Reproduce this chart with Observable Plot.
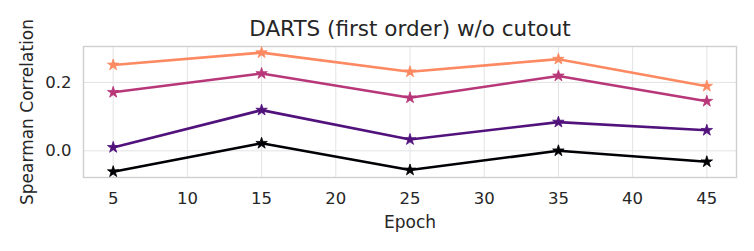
<!DOCTYPE html>
<html>
<head>
<meta charset="utf-8">
<script src="https://cdn.jsdelivr.net/npm/d3@7"></script>
<script src="https://cdn.jsdelivr.net/npm/@observablehq/plot@0.6"></script>
<style>
  html, body { margin: 0; padding: 0; background: #fff; }
  #chart svg { display: block; }
</style>
</head>
<body>
<div id="chart"></div>
<script>
const epochs = [5, 15, 25, 35, 45];
const seriesNames = ["s0", "s1", "s2", "s3"];
const seriesColors = ["#000004", "#51127c", "#b73779", "#fc8961"];
const values0 = [-0.061, 0.022, -0.056, 0.000, -0.032];
const values1 = [0.010, 0.119, 0.033, 0.084, 0.060];
const values2 = [0.171, 0.226, 0.155, 0.219, 0.145];
const values3 = [0.251, 0.287, 0.231, 0.268, 0.189];
const xTicks = [5, 10, 15, 20, 25, 30, 35, 40, 45];
const yTicks = [0.0, 0.2];
const titleText = "DARTS (first order) w/o cutout";
const xLabel = "Epoch";
const yLabel = "Spearman Correlation";

const allValues = [values0, values1, values2, values3];
const data = [];
allValues.forEach((vals, i) => {
  vals.forEach((v, j) => data.push({series: seriesNames[i], epoch: epochs[j], value: v}));
});

const textColor = "#262626";
const font = "DejaVu Sans, sans-serif";

const chart = Plot.plot({
  width: 754,
  height: 251,
  marginLeft: 83,
  marginRight: 18,
  marginTop: 46,
  marginBottom: 74,
  style: {fontFamily: font, color: textColor, background: "#fff", overflow: "visible"},
  x: {domain: [3, 47]},
  y: {domain: [-0.078, 0.305]},
  color: {domain: seriesNames, range: seriesColors},
  marks: [
    Plot.gridX(xTicks, {stroke: "#e3e3e3", strokeOpacity: 1, strokeWidth: 1}),
    Plot.gridY(yTicks, {stroke: "#e3e3e3", strokeOpacity: 1, strokeWidth: 1}),
    Plot.frame({stroke: "#cfcfcf", strokeWidth: 1.4}),
    Plot.axisX(xTicks, {tickSize: 0, tickPadding: 15, fontSize: 16.5, label: xLabel, labelAnchor: "center", labelArrow: "none", labelOffset: 50, tickFormat: d => String(d)}),
    Plot.axisY(yTicks, {tickSize: 0, tickPadding: 12, fontSize: 16.5, label: yLabel, labelAnchor: "center", labelArrow: "none", labelOffset: 63, tickFormat: d => d.toFixed(1)}),
    Plot.line(data, {x: "epoch", y: "value", stroke: "series", z: "series", strokeWidth: 2.6, curve: "linear"}),
    Plot.dot(data, {x: "epoch", y: "value", fill: "series", stroke: "series", strokeWidth: 0.8, symbol: "star", r: 3.6}),
    Plot.text([titleText], {frameAnchor: "top", lineAnchor: "bottom", dy: -10.3, fontSize: 21.5, fill: textColor})
  ]
});
chart.querySelectorAll("g[aria-label='x-axis label'] text, g[aria-label='y-axis label'] text").forEach(t => t.setAttribute("font-size", "17"));
document.getElementById("chart").appendChild(chart);
</script>
</body>
</html>
